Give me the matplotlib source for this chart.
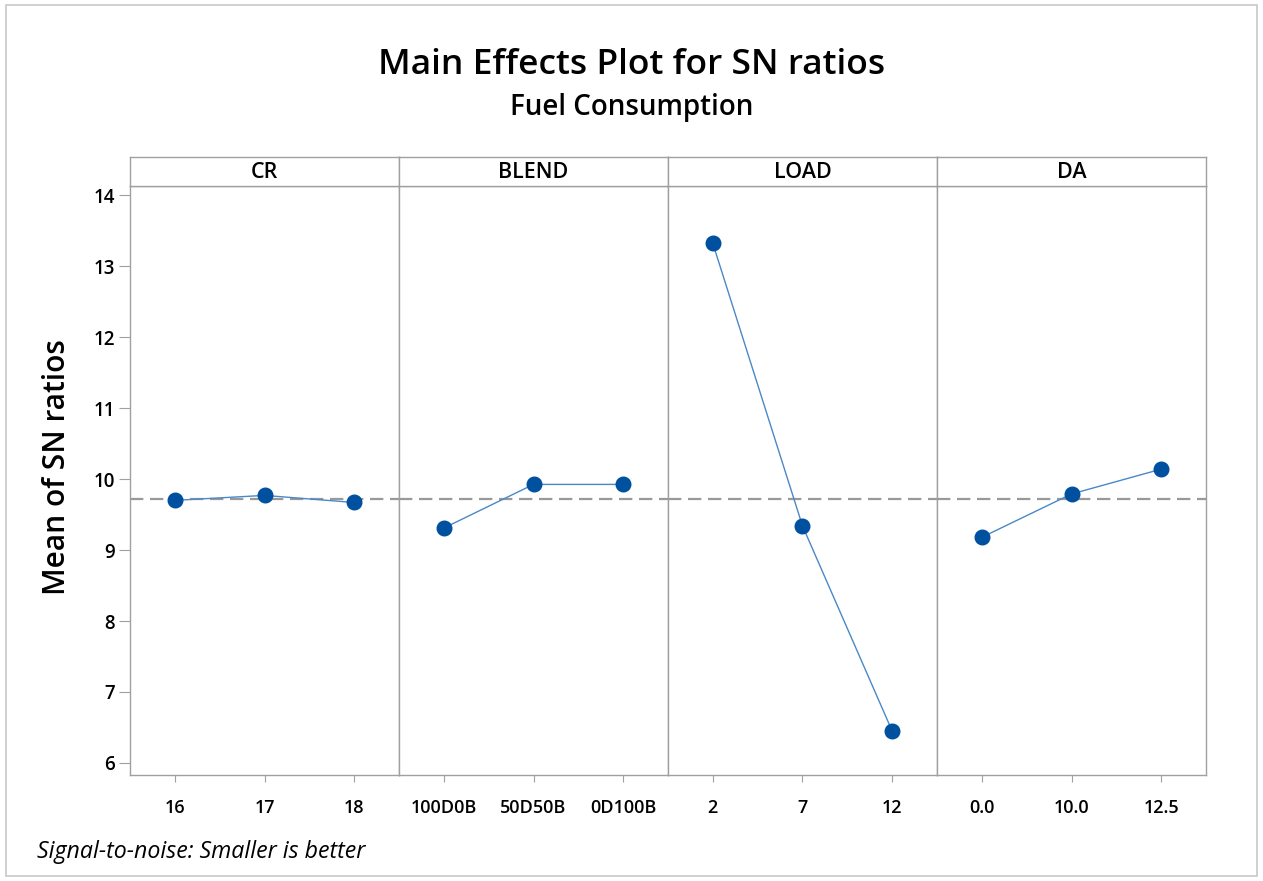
import matplotlib.pyplot as plt
from matplotlib.patches import Rectangle

# factor names, levels and mean SN ratios
factors = ['CR', 'BLEND', 'LOAD', 'DA']
levels = [
    ['16', '17', '18'],
    ['100D0B', '50D50B', '0D100B'],
    ['2', '7', '12'],
    ['0.0', '10.0', '12.5'],
]
cr_sn = [9.70, 9.77, 9.67]
blend_sn = [9.31, 9.925, 9.925]
load_sn = [13.32, 9.34, 6.45]
da_sn = [9.18, 9.79, 10.14]
sn_means = [cr_sn, blend_sn, load_sn, da_sn]

overall_mean = sum(cr_sn) / 3
yticks = [6, 7, 8, 9, 10, 11, 12, 13, 14]

plt.rcParams['font.family'] = ['Open Sans', 'DejaVu Sans']

frame_col = '#a0a0a0'
marker_col = '#0050a0'
line_col = '#4a88c8'

fig = plt.figure(figsize=(12.63, 8.81), dpi=100)

# outer border
fig.patches.append(Rectangle((0.005, 0.006), 0.990, 0.988, transform=fig.transFigure,
                             fill=False, edgecolor='#c8c8c8', lw=1.2))

left, right = 130 / 1263, 1206 / 1263
bottom, top = 1 - 775 / 881, 1 - 186 / 881
strip_top = 1 - 157 / 881
pw = (right - left) / 4

for i, name in enumerate(factors):
    ax = fig.add_axes([left + i * pw, bottom, pw, top - bottom])
    x = [1, 2, 3]
    ax.plot(x, sn_means[i], color=line_col, lw=1.0, zorder=3)
    ax.plot(x, sn_means[i], 'o', color=marker_col, ms=10.5, zorder=4)
    ax.axhline(overall_mean, color='#999999', lw=1.6, ls=(0, (6, 3)), zorder=2)
    ax.set_xlim(0.5, 3.5)
    ax.set_ylim(5.83, 14.13)
    ax.set_xticks(x)
    ax.set_xticklabels(levels[i], fontsize=13, fontweight='semibold')
    ax.set_yticks(yticks)
    if i == 0:
        ax.set_yticklabels([str(t) for t in yticks], fontsize=13.5, fontweight='semibold')
        ax.tick_params(axis='y', length=8, color=frame_col, pad=3)
    else:
        ax.tick_params(axis='y', left=False, labelleft=False)
    ax.tick_params(axis='x', length=5, color=frame_col, pad=12)
    for sp in ax.spines.values():
        sp.set_color(frame_col)
        sp.set_linewidth(1.0)

    # strip header
    sax = fig.add_axes([left + i * pw, top, pw, strip_top - top])
    sax.set_xticks([])
    sax.set_yticks([])
    for sp in sax.spines.values():
        sp.set_color(frame_col)
        sp.set_linewidth(1.0)
    sax.text(0.5, 0.45, name, ha='center', va='center', fontsize=15.5,
             fontweight='semibold', transform=sax.transAxes)

fig.text(0.5, 1 - 65 / 881, 'Main Effects Plot for SN ratios', ha='center', va='center',
         fontsize=25.5, fontweight='semibold')
fig.text(0.5, 1 - 108 / 881, 'Fuel Consumption', ha='center', va='center',
         fontsize=20, fontweight='semibold')
fig.text(57 / 1263, 1 - 467 / 881, 'Mean of SN ratios', ha='center', va='center',
         rotation=90, fontsize=21.5, fontweight='semibold')
fig.text(37 / 1263, 1 - 852 / 881, 'Signal-to-noise: Smaller is better', ha='left',
         va='center', fontsize=16.7, style='italic')

fig.savefig('out.png', dpi=100)
